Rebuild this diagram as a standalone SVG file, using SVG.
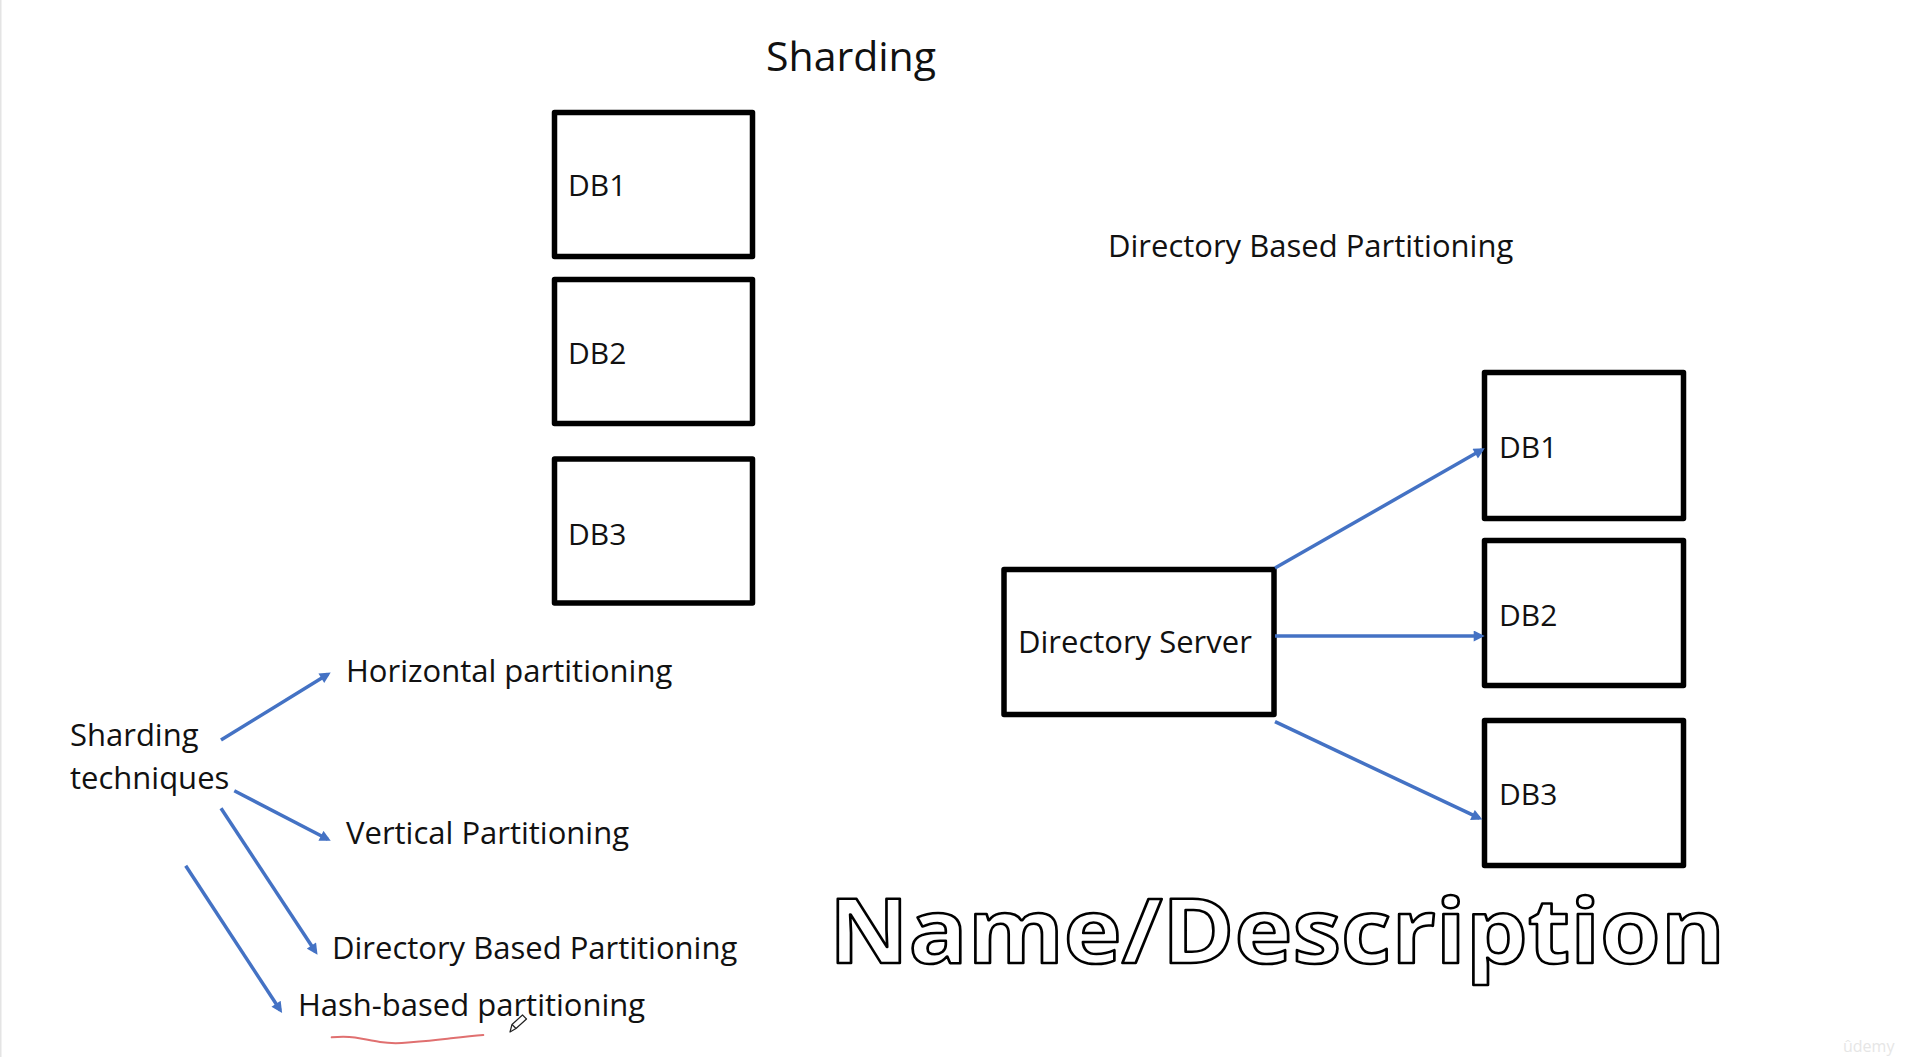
<svg xmlns="http://www.w3.org/2000/svg" width="1919" height="1057" viewBox="0 0 1919 1057">
<style>
.box{fill:#fff;stroke:#000;stroke-width:5.5;stroke-linejoin:round}
.t{font-family:"Open Sans","Liberation Sans",sans-serif;font-size:31px;fill:#111}
.db{font-family:"Open Sans","Liberation Sans",sans-serif;font-size:30px;fill:#111}
.arr{stroke:#4472C4;stroke-width:3.5;fill:none;marker-end:url(#ah)}
</style>
<defs>
<marker id="ah" viewBox="0 0 10 10" refX="7" refY="5" markerWidth="13" markerHeight="11" markerUnits="userSpaceOnUse" orient="auto">
<path d="M0,0 L10,5 L0,10 z" fill="#4472C4"/>
</marker>
</defs>
<rect x="0" y="0" width="1919" height="1057" fill="#fff"/>
<rect x="0" y="0" width="1.5" height="1057" fill="#e4e4e4"/>

<text id="title" x="766" y="71" font-family="'Open Sans','Liberation Sans',sans-serif" font-size="41" fill="#111">Sharding</text>

<g id="left-db1"><rect class="box" x="554.5" y="112.5" width="198" height="144"/><text class="db" x="568" y="196">DB1</text></g>
<g id="left-db2"><rect class="box" x="554.5" y="279.5" width="198" height="144"/><text class="db" x="568" y="364">DB2</text></g>
<g id="left-db3"><rect class="box" x="554.5" y="459" width="198" height="144"/><text class="db" x="568" y="545">DB3</text></g>

<text id="dbp-title" class="t" x="1108" y="257">Directory Based Partitioning</text>

<g id="directory-server"><rect class="box" x="1004" y="569.5" width="270" height="145"/><text class="t" x="1018" y="653">Directory Server</text></g>
<g id="right-db1"><rect class="box" x="1484.5" y="372.5" width="199" height="146"/><text class="db" x="1499" y="458">DB1</text></g>
<g id="right-db2"><rect class="box" x="1484.5" y="540.5" width="199" height="145"/><text class="db" x="1499" y="626">DB2</text></g>
<g id="right-db3"><rect class="box" x="1484.5" y="720.5" width="199" height="145"/><text class="db" x="1499" y="805">DB3</text></g>

<g id="sharding-techniques"><text class="t" x="70" y="746">Sharding</text><text class="t" x="70" y="789">techniques</text></g>
<g id="horizontal"><text class="t" x="346" y="682">Horizontal partitioning</text></g>
<g id="vertical"><text class="t" x="346" y="844">Vertical Partitioning</text></g>
<g id="directory-based"><text class="t" x="332" y="959">Directory Based Partitioning</text></g>
<g id="hash-based"><text class="t" x="298" y="1016">Hash-based partitioning</text></g>

<g id="connectors">
<line class="arr" x1="221" y1="740" x2="327.9" y2="674.2"/>
<line class="arr" x1="234.3" y1="790.7" x2="327.8" y2="839.3"/>
<line class="arr" x1="221" y1="808.3" x2="315.7" y2="952"/>
<line class="arr" x1="185.7" y1="865.7" x2="280.3" y2="1010.3"/>
<line class="arr" x1="1275" y1="568" x2="1481.9" y2="449.8"/>
<line class="arr" x1="1275" y1="636" x2="1481.4" y2="636"/>
<line class="arr" x1="1275" y1="721.7" x2="1479.4" y2="818.2"/>
</g>

<path id="red-underline" d="M331.7,1037.3 C340,1036.5 348,1036.5 355,1037.5 C365,1039 372,1041 380,1042 C390,1043.5 398,1043.5 408,1042.5 C420,1041.5 432,1040.5 445,1039 C458,1037.5 470,1036 483.3,1035" fill="none" stroke="#E07070" stroke-width="2" stroke-linecap="round"/>

<g id="pencil-cursor" fill="#fff" stroke="#222" stroke-width="1.2" stroke-linejoin="round">
<path d="M510,1032 L512,1024.5 L522.5,1015 L526.5,1019 L516,1028.5 Z"/>
<path d="M512,1024.5 L516,1028.5" fill="none"/>
</g>

<text id="name-description" x="829" y="963" font-family="'Open Sans','Liberation Sans',sans-serif" font-weight="700" font-size="90" textLength="896" lengthAdjust="spacingAndGlyphs" fill="#fff" stroke="#000" stroke-width="2.5" stroke-linejoin="round">Name/Description</text>

<text id="watermark" x="1843" y="1052" font-family="'Open Sans','Liberation Sans',sans-serif" font-size="16" fill="#e6e6e6">ûdemy</text>
</svg>
